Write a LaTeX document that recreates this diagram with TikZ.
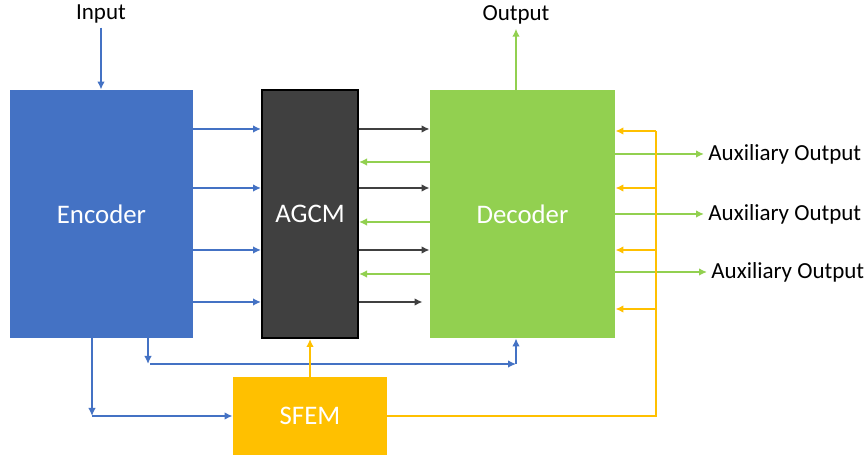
\documentclass[tikz,border=0pt]{standalone}
\usepackage{fontspec}
\setmainfont{Carlito}
\usetikzlibrary{arrows.meta}
\definecolor{encblue}{HTML}{4472C4}
\definecolor{agcmgray}{HTML}{404040}
\definecolor{decgreen}{HTML}{92D050}
\definecolor{sfemyellow}{HTML}{FFC000}
\begin{document}
\begin{tikzpicture}[x=0.5pt,y=-0.5pt,
    block/.style={inner sep=0pt,font=\fontsize{13.4}{15}\selectfont,text=white},
    lbl/.style={font=\fontsize{11.5}{13}\selectfont,inner sep=2pt},
    arr/.style={line width=1pt,-{Latex[length=4pt,width=3.8pt]}}]
  \useasboundingbox (0,0) rectangle (866,458);
      \node[block,fill=encblue,minimum width=91.5pt,minimum height=124pt](enc) at (101.5,214){Encoder};
      \node[block,fill=agcmgray,draw=black,line width=1pt,minimum width=48pt,minimum height=124pt](agcm) at (310,214){AGCM};
      \node[block,fill=decgreen,minimum width=92.5pt,minimum height=124pt](dec) at (522.5,214){Decoder};
      \node[block,fill=sfemyellow,minimum width=77pt,minimum height=39pt](sfem) at (310,416){SFEM};
      \node[lbl](inp) at (101,14){Input};
      \node[lbl](out) at (516,15){Output};
      \node[lbl,anchor=west](aux1) at (704,154){Auxiliary Output};
      \node[lbl,anchor=west](aux2) at (704,214){Auxiliary Output};
      \node[lbl,anchor=west](aux3) at (707,272){Auxiliary Output};
      \coordinate (e1) at (92,416);
      \coordinate (e2) at (148,364);
      \coordinate (d2) at (516,364);
      \coordinate (bt) at (656,131);
      \coordinate (bb) at (656,416);
      % input and output
      \draw[arr,encblue] (inp.south) -- (inp.south |- enc.north);
      \draw[arr,decgreen] (out.south |- dec.north) -- (out.south);
      % encoder to agcm, agcm to decoder and back
      \foreach \y in {129,188,250,302}
        \draw[arr,encblue] (enc.east |- 0,\y) -- (agcm.west |- 0,\y);
      \foreach \y in {129,188,250}
        \draw[arr,agcmgray] (agcm.east |- 0,\y) -- (dec.west |- 0,\y);
      \draw[arr,agcmgray] (agcm.east |- 0,302) -- ([xshift=-3.5pt]dec.west |- 0,302);
      \foreach \y in {162,222,274}
        \draw[arr,decgreen] (dec.west |- 0,\y) -- (agcm.east |- 0,\y);
      % auxiliary outputs
      \draw[arr,decgreen] (dec.east |- aux1) -- (aux1.west);
      \draw[arr,decgreen] (dec.east |- aux2) -- (aux2.west);
      \draw[arr,decgreen] (dec.east |- aux3) -- (aux3.west);
      % skip paths from the encoder
      \draw[arr,encblue] (enc.south -| e1) -- (e1);
      \draw[arr,encblue] (e1) -- (sfem.west);
      \draw[arr,encblue] (enc.south -| e2) -- (e2);
      \draw[arr,encblue] ([xshift=1pt]e2) -- (d2);
      \draw[arr,encblue] (d2) -- (dec.south -| d2);
      % sfem feedback
      \draw[arr,sfemyellow] (sfem.north) -- (agcm.south);
      \draw[line width=1pt,sfemyellow] (sfem.east) -- (bb) -- (bt);
      \foreach \y in {131,188,250,309}
        \draw[arr,sfemyellow] (bt |- 0,\y) -- (dec.east |- 0,\y);
\end{tikzpicture}
\end{document}
